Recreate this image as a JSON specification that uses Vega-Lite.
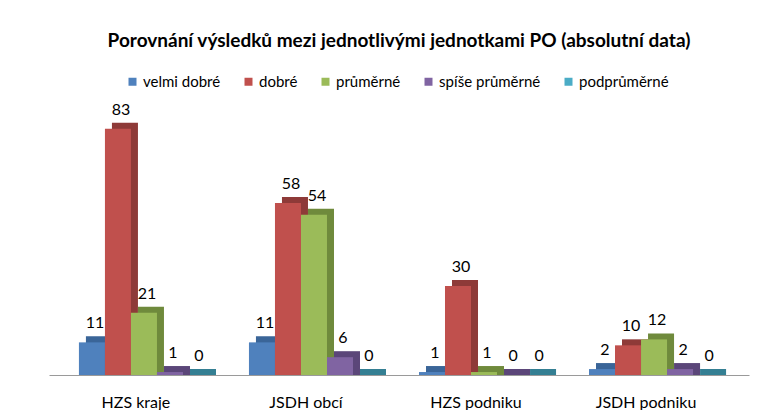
{
  "$schema": "https://vega.github.io/schema/vega-lite/v6.json",
  "width": 700,
  "height": 267,
  "autosize": "none",
  "padding": {"left": 49, "top": 108, "right": 24, "bottom": 35},
  "background": "white",
  "title": {
    "text": "Porovnání výsledků mezi jednotlivými jednotkami PO (absolutní data)",
    "font": "Lato",
    "fontSize": 19,
    "fontWeight": "bold",
    "color": "#000000",
    "anchor": "middle",
    "baseline": "bottom",
    "offset": 4
  },
  "data": {
    "values": [
      {"unit": "HZS kraje", "hodnoceni": "velmi dobré", "value": 11},
      {"unit": "HZS kraje", "hodnoceni": "dobré", "value": 83},
      {"unit": "HZS kraje", "hodnoceni": "průměrné", "value": 21},
      {"unit": "HZS kraje", "hodnoceni": "spíše průměrné", "value": 1},
      {"unit": "HZS kraje", "hodnoceni": "podprůměrné", "value": 0},
      {"unit": "JSDH obcí", "hodnoceni": "velmi dobré", "value": 11},
      {"unit": "JSDH obcí", "hodnoceni": "dobré", "value": 58},
      {"unit": "JSDH obcí", "hodnoceni": "průměrné", "value": 54},
      {"unit": "JSDH obcí", "hodnoceni": "spíše průměrné", "value": 6},
      {"unit": "JSDH obcí", "hodnoceni": "podprůměrné", "value": 0},
      {"unit": "HZS podniku", "hodnoceni": "velmi dobré", "value": 1},
      {"unit": "HZS podniku", "hodnoceni": "dobré", "value": 30},
      {"unit": "HZS podniku", "hodnoceni": "průměrné", "value": 1},
      {"unit": "HZS podniku", "hodnoceni": "spíše průměrné", "value": 0},
      {"unit": "HZS podniku", "hodnoceni": "podprůměrné", "value": 0},
      {"unit": "JSDH podniku", "hodnoceni": "velmi dobré", "value": 2},
      {"unit": "JSDH podniku", "hodnoceni": "dobré", "value": 10},
      {"unit": "JSDH podniku", "hodnoceni": "průměrné", "value": 12},
      {"unit": "JSDH podniku", "hodnoceni": "spíše průměrné", "value": 2},
      {"unit": "JSDH podniku", "hodnoceni": "podprůměrné", "value": 0}
    ]
  },
  "encoding": {
    "xOffset": {
      "field": "hodnoceni",
      "type": "nominal",
      "sort": ["velmi dobré", "dobré", "průměrné", "spíše průměrné", "podprůměrné"],
      "scale": {"paddingInner": 0, "paddingOuter": 0}
    },
    "y": {
      "field": "value",
      "type": "quantitative",
      "scale": {"domain": [0, 90]},
      "axis": null
    }
  },
  "layer": [
    {
      "mark": {"type": "bar", "yOffset": -6, "y2Offset": 0},
      "encoding": {
        "x": {
          "field": "unit",
          "type": "nominal",
          "sort": ["HZS kraje", "JSDH obcí", "HZS podniku", "JSDH podniku"],
          "scale": {"paddingInner": 0.235, "paddingOuter": 0.176, "range": [7, 707]},
          "axis": null
        },
        "y2": {"datum": 0},
        "color": {
          "field": "hodnoceni",
          "type": "nominal",
          "sort": ["velmi dobré", "dobré", "průměrné", "spíše průměrné", "podprůměrné"],
          "scale": {"range": ["#3A6598", "#8E3A38", "#6F8A3C", "#5B4679", "#347F93"]},
          "legend": null
        }
      }
    },
    {
      "encoding": {
        "x": {
          "field": "unit",
          "type": "nominal",
          "sort": ["HZS kraje", "JSDH obcí", "HZS podniku", "JSDH podniku"],
          "scale": {"paddingInner": 0.235, "paddingOuter": 0.176},
          "axis": {
            "title": null,
            "labelAngle": 0,
            "ticks": false,
            "labelFont": "Lato",
            "labelFontSize": 16,
            "labelColor": "#000000",
            "labelPadding": 19,
            "labelOffset": -8,
            "domainColor": "#9a9a9a",
            "domainWidth": 1
          }
        }
      },
      "layer": [
        {
          "mark": {"type": "bar"},
          "encoding": {
            "color": {
              "field": "hodnoceni",
              "type": "nominal",
              "sort": ["velmi dobré", "dobré", "průměrné", "spíše průměrné", "podprůměrné"],
              "scale": {"range": ["#4F81BD", "#C0504D", "#9BBB59", "#8064A2", "#4BACC6"]},
              "legend": {
                "title": null,
                "orient": "none",
                "direction": "horizontal",
                "legendX": 76,
                "legendY": -34,
                "symbolType": "square",
                "symbolSize": 64,
                "symbolStrokeWidth": 0,
                "labelFont": "Lato",
                "labelFontSize": 15,
                "labelColor": "#000000",
                "columnPadding": 20,
                "labelOffset": 3
              }
            }
          }
        },
        {
          "mark": {"type": "text", "font": "Lato", "fontSize": 16, "color": "#000000", "baseline": "middle", "dy": -19, "dx": 3},
          "encoding": {"text": {"field": "value", "type": "quantitative"}}
        }
      ]
    }
  ],
  "resolve": {"scale": {"color": "independent", "x": "independent"}},
  "config": {"view": {"stroke": null}}
}
